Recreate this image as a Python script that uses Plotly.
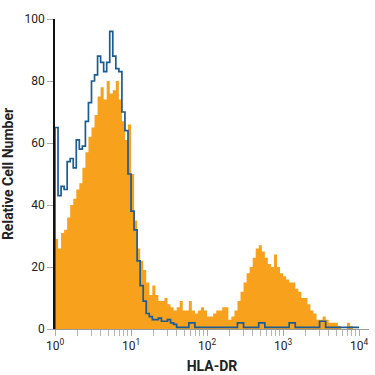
import plotly.graph_objects as go

# ---- data ----
bin_width_decades = 0.04  # histogram channel width, in log10 units, starting at 10^0

hla_dr_counts = [
    29, 26, 31, 32, 36, 40, 42, 45, 47, 52,
    57, 62, 65, 69, 75, 78, 74, 80, 76, 77,
    80, 74, 67, 61, 66, 50, 35, 26, 22, 19,
    15, 11, 14, 11, 9, 9, 10, 8, 7, 6,
    7, 9, 6, 6, 9, 6, 5, 6, 7, 6,
    4, 4, 5, 6, 6, 7, 7, 3, 4, 6,
    9, 12, 15, 18, 20, 23, 26, 27, 25, 23,
    21, 20, 24, 20, 18, 17, 16, 15, 15, 13,
    12, 10, 10, 8, 6, 5, 3, 3, 4, 3,
    2, 2, 2, 1, 0, 0, 2, 1, 0, 0,
]

isotype_counts = [
    65, 43, 46, 45, 54, 55, 52, 61, 58, 59,
    67, 73, 80, 82, 88, 86, 83, 86, 96, 88,
    84, 83, 70, 64, 50, 38, 32, 22, 14, 9,
    5, 4, 3, 3, 3.5, 2.5, 2.5, 3, 2, 1.5,
    0.5, 0.5, 0.5, 0.5, 2, 2, 0.5, 0.5, 0.5, 0.5,
    0.5, 0.5, 0.5, 0.5, 0.5, 0.5, 0.5, 0.5, 0.5, 0.5,
    2, 2, 0.5, 0.5, 0.5, 0.5, 0.5, 2, 2, 0.5,
    0.5, 0.5, 0.5, 0.5, 0.5, 0.5, 0.5, 2, 2, 0.5,
    0.5, 0.5, 0.5, 0.5, 0.5, 0.5, 0.5, 2.5, 2.5, 0.5,
    0.5, 0.5, 0.5, 0.5, 0.5, 0.5, 0.5, 0.5, 0.5, 0.5,
]

x_tick_values = [1, 10, 100, 1000, 10000]
x_tick_labels = ["10<sup>0</sup>", "10<sup>1</sup>", "10<sup>2</sup>", "10<sup>3</sup>", "10<sup>4</sup>"]
y_tick_values = [0, 20, 40, 60, 80, 100]

x_title = "HLA-DR"
y_title = "Relative Cell Number"

ORANGE = "#F7A11D"
BLUE = "#1B5C93"
FONT = "Roboto, Liberation Sans, sans-serif"

# ---- step coordinates ----
n = len(hla_dr_counts)
edges = [10 ** (bin_width_decades * i) for i in range(n + 1)]


def steps(counts):
    xs = [edges[0]] + edges
    ys = [0] + list(counts) + [counts[-1]]
    return xs, ys


ox, oy = steps(hla_dr_counts)
bx, by = steps(isotype_counts)

fig = go.Figure()
fig.add_trace(go.Scatter(
    x=ox, y=oy, mode="lines", line=dict(shape="hv", width=0, color=ORANGE),
    fill="tozeroy", fillcolor=ORANGE, hoverinfo="skip", showlegend=False,
))
fig.add_trace(go.Scatter(
    x=bx, y=by, mode="lines", line=dict(shape="hv", width=1.7, color=BLUE),
    hoverinfo="skip", showlegend=False,
))

minor_vals = [k * 10 ** d for d in range(0, 4) for k in range(2, 10)]

fig.update_layout(
    width=375, height=375,
    margin=dict(l=55, r=6, t=19, b=46),
    paper_bgcolor="white", plot_bgcolor="white",
    font=dict(family=FONT, size=12, color="#222"),
    xaxis=dict(
        type="log", range=[0, 4.13], automargin=False,
        tickmode="array", tickvals=x_tick_values, ticktext=x_tick_labels,
        ticks="outside", ticklen=6, tickcolor="#aaaaaa", tickwidth=1,
        showline=True, linecolor="#9a9a9a", linewidth=1,
        showgrid=False, zeroline=False,
        minor=dict(tickmode="array", tickvals=minor_vals, ticks="outside",
                   ticklen=6, tickcolor="#b5b5b5", tickwidth=1, showgrid=False),
        tickfont=dict(size=12, color="#222"),
        title=dict(text="<b>" + x_title + "</b>", font=dict(size=14, color="#222"), standoff=8),
    ),
    yaxis=dict(
        range=[0, 100], automargin=False,
        tickmode="array", tickvals=y_tick_values,
        ticks="outside", ticklen=6, tickcolor="#aaaaaa", tickwidth=1,
        showline=True, linecolor="#111111", linewidth=1.5,
        showgrid=False, zeroline=False,
        tickfont=dict(size=12, color="#222"),
        title=dict(text="<b>" + y_title + "</b>", font=dict(size=14, color="#222"), standoff=8),
    ),
)

fig.write_html("out.html", config={"displayModeBar": False},
               post_script="document.body.style.margin='0';")
